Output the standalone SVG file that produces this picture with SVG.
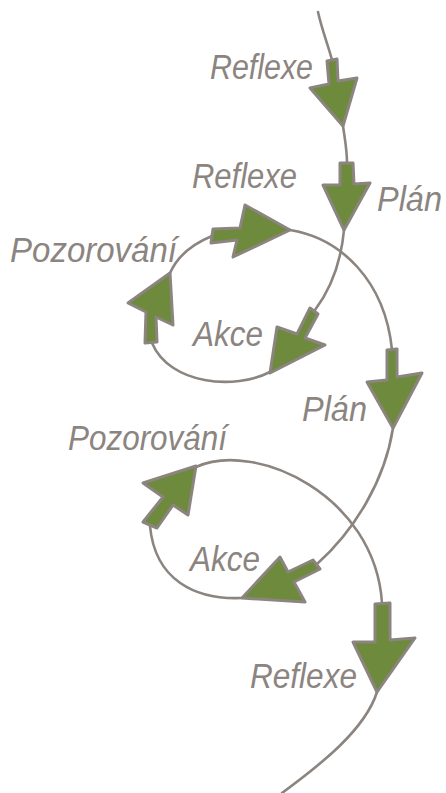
<svg xmlns="http://www.w3.org/2000/svg" width="446" height="793" viewBox="0 0 446 793">
<style>
.ln{fill:none;stroke:#8b847f;stroke-width:2.6;stroke-linecap:round}
.ar{fill:#6e8a3d;stroke:#8b847f;stroke-width:3;stroke-linejoin:round}
.lb{font-family:"Liberation Sans",sans-serif;font-style:italic;font-size:35px;fill:#8b847f}
</style>
<rect width="446" height="793" fill="#ffffff"/>
<g id="connectors">
<path class="ln" d="M318,12 C322,30 328,45 332,60"/>
<path class="ln" d="M343,126 C345,140 347,150 347,163"/>
<path class="ln" d="M344,230 C341,262 330,290 315,310"/>
<path class="ln" d="M270,372 C235,390 170,385 152,343"/>
<path class="ln" d="M170,273 C178,255 195,243 212,236"/>
<path class="ln" d="M290,230 C340,238 385,280 392,350"/>
<path class="ln" d="M393,428 C385,480 355,530 317,564"/>
<path class="ln" d="M242,598 C195,600 155,580 150,526"/>
<path class="ln" d="M196,467 C255,440 375,495 382,603"/>
<path class="ln" d="M377,692 C365,730 320,765 282,793"/>
<polygon class="ar" points="327,61 337,59 338,81 357,78 343,126 310,88 329,84"/>
<polygon class="ar" points="340,163 353,163 354,184 370,183 344,230 323,185 340,185"/>
<polygon class="ar" points="310,308 318,314 305,338 325,345 270,373 277,327 297,334"/>
<polygon class="ar" points="145,343 157,342 156,317 173,325 170,273 128,303 146,312"/>
<polygon class="ar" points="213,229 240,228 245,205 290,230 233,257 237,240 211,243"/>
<polygon class="ar" points="387,350 397,349 397,377 422,373 393,428 367,382 387,380"/>
<polygon class="ar" points="313,560 320,569 294,582 305,602 242,598 280,557 288,572"/>
<polygon class="ar" points="143,522 163,497 143,483 196,466 188,515 173,505 157,528"/>
<polygon class="ar" points="375,604 390,603 390,640 415,638 377,692 353,642 375,642"/>
</g>
<g id="reflexe1"><text class="lb" x="210" y="79" textLength="103" lengthAdjust="spacingAndGlyphs">Reflexe</text></g>
<g id="reflexe2"><text class="lb" x="192" y="188" textLength="105" lengthAdjust="spacingAndGlyphs">Reflexe</text></g>
<g id="plan1"><text class="lb" x="377" y="211" textLength="65" lengthAdjust="spacingAndGlyphs">Plán</text></g>
<g id="pozorovani1"><text class="lb" x="10" y="262" textLength="167" lengthAdjust="spacingAndGlyphs">Pozorování</text></g>
<g id="akce1"><text class="lb" x="193" y="346" textLength="70" lengthAdjust="spacingAndGlyphs">Akce</text></g>
<g id="plan2"><text class="lb" x="302" y="421" textLength="65" lengthAdjust="spacingAndGlyphs">Plán</text></g>
<g id="pozorovani2"><text class="lb" x="68" y="450" textLength="159" lengthAdjust="spacingAndGlyphs">Pozorování</text></g>
<g id="akce2"><text class="lb" x="190" y="571" textLength="70" lengthAdjust="spacingAndGlyphs">Akce</text></g>
<g id="reflexe3"><text class="lb" x="250" y="688" textLength="107" lengthAdjust="spacingAndGlyphs">Reflexe</text></g>
</svg>
